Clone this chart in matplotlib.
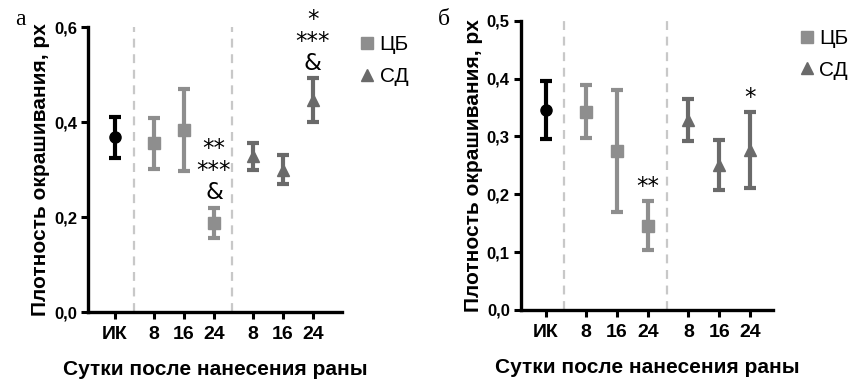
import matplotlib
matplotlib.use("Agg")
import matplotlib.pyplot as plt
from matplotlib.lines import Line2D

plt.rcParams["font.family"] = ["Liberation Sans", "DejaVu Sans"]

# данные, панель а
a_ik = [0.368, 0.043]
a_cb_mean = [0.355, 0.383, 0.188]
a_cb_err = [0.054, 0.086, 0.032]
a_sd_mean = [0.328, 0.300, 0.446]
a_sd_err = [0.028, 0.031, 0.046]

# данные, панель б
b_ik = [0.346, 0.050]
b_cb_mean = [0.343, 0.275, 0.146]
b_cb_err = [0.046, 0.106, 0.042]
b_sd_mean = [0.328, 0.251, 0.276]
b_sd_err = [0.036, 0.043, 0.066]

days = ["8", "16", "24"]
xlabels = ["ИК"] + days + days
a_marks = ["", "", "**\n***\n&", "", "", "*\n***\n&"]
b_marks = ["", "", "**", "", "", "*"]

ik_color = "#000000"
cb_color = "#8e8e8e"
sd_color = "#6a6a6a"

pos_cb = [1.3, 2.3, 3.3]
pos_sd = [4.6, 5.6, 6.6]


def panel(ax, ik, cb_m, cb_e, sd_m, sd_e, marks, ymax, yticks, xlim, dashes, leg_anchor):
    kw = dict(elinewidth=3, capsize=4.5, capthick=3, linestyle="none")
    ax.errorbar([0], [ik[0]], yerr=[ik[1]], color=ik_color, marker="o", markersize=8, **kw)
    ax.errorbar(pos_cb, cb_m, yerr=cb_e, color=cb_color, marker="s", markersize=8, **kw)
    ax.errorbar(pos_sd, sd_m, yerr=sd_e, color=sd_color, marker="^", markersize=8, **kw)

    for d in dashes:
        ax.axvline(d, color="#c8c8c8", linestyle=(0, (4, 3)), linewidth=1.6)

    tops = [m + e for m, e in zip(cb_m + sd_m, cb_e + sd_e)]
    for x, t, s in zip(pos_cb + pos_sd, tops, marks):
        if s:
            ax.text(x, t + ymax * 0.012, s, ha="center", va="bottom", fontsize=16.5,
                    family="DejaVu Sans", linespacing=0.95, clip_on=False)

    ax.set_xlim(*xlim)
    ax.set_ylim(0, ymax)
    ax.set_yticks(yticks)
    ax.set_yticklabels([f"{v:.1f}".replace(".", ",") for v in yticks],
                       fontsize=12, fontweight="bold")
    ax.set_xticks([0] + pos_cb + pos_sd)
    ax.set_xticklabels(xlabels, fontsize=14, fontweight="bold")
    ax.spines["top"].set_visible(False)
    ax.spines["right"].set_visible(False)
    for s in ("left", "bottom"):
        ax.spines[s].set_linewidth(2.4)
    ax.tick_params(width=2.2, length=5, pad=3)
    ax.tick_params(axis="x", pad=5)
    ax.set_ylabel("Плотность окрашивания, px", fontsize=15, fontweight="bold", labelpad=3)
    ax.set_xlabel("Сутки после нанесения раны", fontsize=15, fontweight="bold", labelpad=12)

    handles = [Line2D([], [], color=cb_color, marker="s", linestyle="none", markersize=8),
               Line2D([], [], color=sd_color, marker="^", linestyle="none", markersize=8)]
    ax.legend(handles, ["ЦБ", "СД"], loc="upper left", bbox_to_anchor=leg_anchor,
              frameon=False, fontsize=15, handletextpad=0.1, labelspacing=0.6,
              handlelength=1.0, borderaxespad=0)


fig = plt.figure(figsize=(8.51, 3.82), dpi=100)
ax1 = fig.add_axes([0.1034, 0.1832, 0.2985, 0.7458])
ax2 = fig.add_axes([0.6122, 0.1885, 0.2961, 0.7573])

panel(ax1, a_ik, a_cb_mean, a_cb_err, a_sd_mean, a_sd_err, a_marks,
      0.6, [0.0, 0.2, 0.4, 0.6], (-0.9, 7.57), [0.63, 3.9], (1.025, 1.0))
panel(ax2, b_ik, b_cb_mean, b_cb_err, b_sd_mean, b_sd_err, b_marks,
      0.5, [0.0, 0.1, 0.2, 0.3, 0.4, 0.5], (-0.8, 7.33), [0.59, 3.92], (1.06, 1.0))

fig.text(0.018, 0.935, "а", fontsize=17, family="Liberation Serif")
fig.text(0.515, 0.935, "б", fontsize=17, family="Liberation Serif")

fig.savefig("out.png", dpi=100)
